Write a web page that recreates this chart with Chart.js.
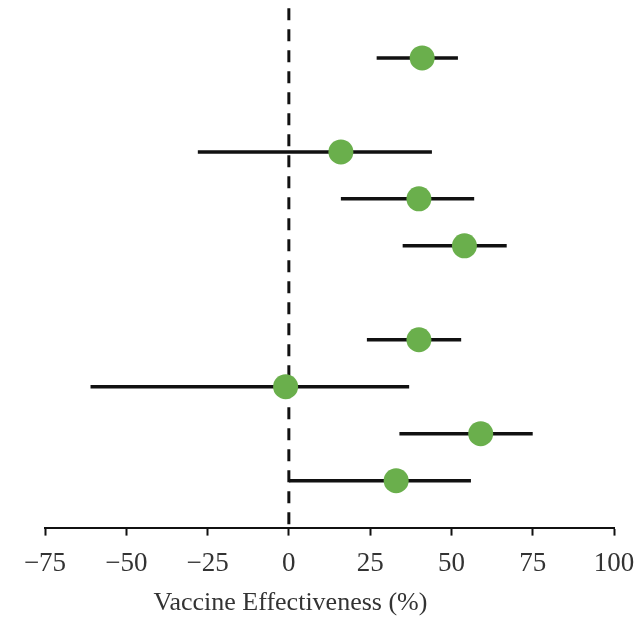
<!DOCTYPE html>
<html>
<head>
<meta charset="utf-8">
<script src="https://cdn.jsdelivr.net/npm/chart.js@4/dist/chart.umd.min.js"></script>
<style>
html,body{margin:0;padding:0;background:#fff;}
#wrap{width:641px;height:620px;}
</style>
</head>
<body>
<div id="wrap"><canvas id="c" width="641" height="620"></canvas></div>
<script>
// Row positions (0 = top); rows 1 and 5 are empty
const rows      = [0, 2, 3, 4, 6, 7, 8, 9];
const estimates = [41, 16, 40, 54, 40, -1, 59, 33];
const lowerCI   = [27, -28, 16, 35, 24, -61, 34, 0];
const upperCI   = [52, 44, 57, 67, 53, 37, 75, 56];
const xTicks    = [-75, -50, -25, 0, 25, 50, 75, 100];
const xTitle    = 'Vaccine Effectiveness (%)';

const pointData = rows.map((r, i) => ({x: estimates[i], y: r}));
const ciData = [];
rows.forEach((r, i) => {
  ciData.push({x: lowerCI[i], y: r});
  ciData.push({x: upperCI[i], y: r});
  ciData.push({x: null, y: null});
});
const refLine = [{x: 0, y: -1.06}, {x: 0, y: 10}];

const serif = '"Liberation Serif", "DejaVu Serif", serif';

// Axis title drawn below the tick labels, centred near the reference line as in the original
const axisTitlePlugin = {
  id: 'axisTitle',
  afterDraw(chart) {
    const ctx = chart.ctx;
    const xs = chart.scales.x;
    ctx.save();
    ctx.font = '26px ' + serif;
    ctx.fillStyle = '#333';
    ctx.textAlign = 'center';
    ctx.textBaseline = 'middle';
    ctx.fillText(xTitle, xs.getPixelForValue(0.5), chart.chartArea.bottom + 76);
    ctx.restore();
  }
};

new Chart(document.getElementById('c'), {
  type: 'scatter',
  data: {
    datasets: [
      {
        data: pointData,
        pointRadius: 12.5,
        pointHoverRadius: 12.5,
        pointBackgroundColor: '#6aaf4c',
        pointBorderWidth: 0,
        showLine: false,
        order: 0
      },
      {
        data: ciData,
        showLine: true,
        spanGaps: false,
        borderColor: '#111',
        borderWidth: 3.5,
        pointRadius: 0,
        order: 1
      },
      {
        data: refLine,
        showLine: true,
        borderColor: '#111',
        borderWidth: 3,
        borderDash: [12, 9],
        pointRadius: 0,
        order: 2
      }
    ]
  },
  plugins: [axisTitlePlugin],
  options: {
    responsive: false,
    animation: false,
    layout: {autoPadding: false, padding: {left: 45, right: 27, top: 0, bottom: 28}},
    plugins: {legend: {display: false}, tooltip: {enabled: false}},
    scales: {
      x: {
        type: 'linear',
        min: -75,
        max: 100,
        afterBuildTicks: (axis) => { axis.ticks = xTicks.map(v => ({value: v})); },
        afterFit: (axis) => { axis.paddingLeft = 0; axis.paddingRight = 0; },
        grid: {display: true, drawOnChartArea: false, drawTicks: true, tickLength: 8, tickColor: '#111', tickWidth: 2},
        border: {display: true, color: '#111', width: 2},
        ticks: {
          color: '#333',
          padding: 12,
          maxRotation: 0,
          autoSkip: false,
          font: {family: serif, size: 27},
          callback: (v) => (v < 0 ? '\u2212' + Math.abs(v) : String(v))
        },
        title: {display: false}
      },
      y: {
        type: 'linear',
        min: -1.234,
        max: 10,
        reverse: true,
        display: false
      }
    }
  }
});
</script>
</body>
</html>
